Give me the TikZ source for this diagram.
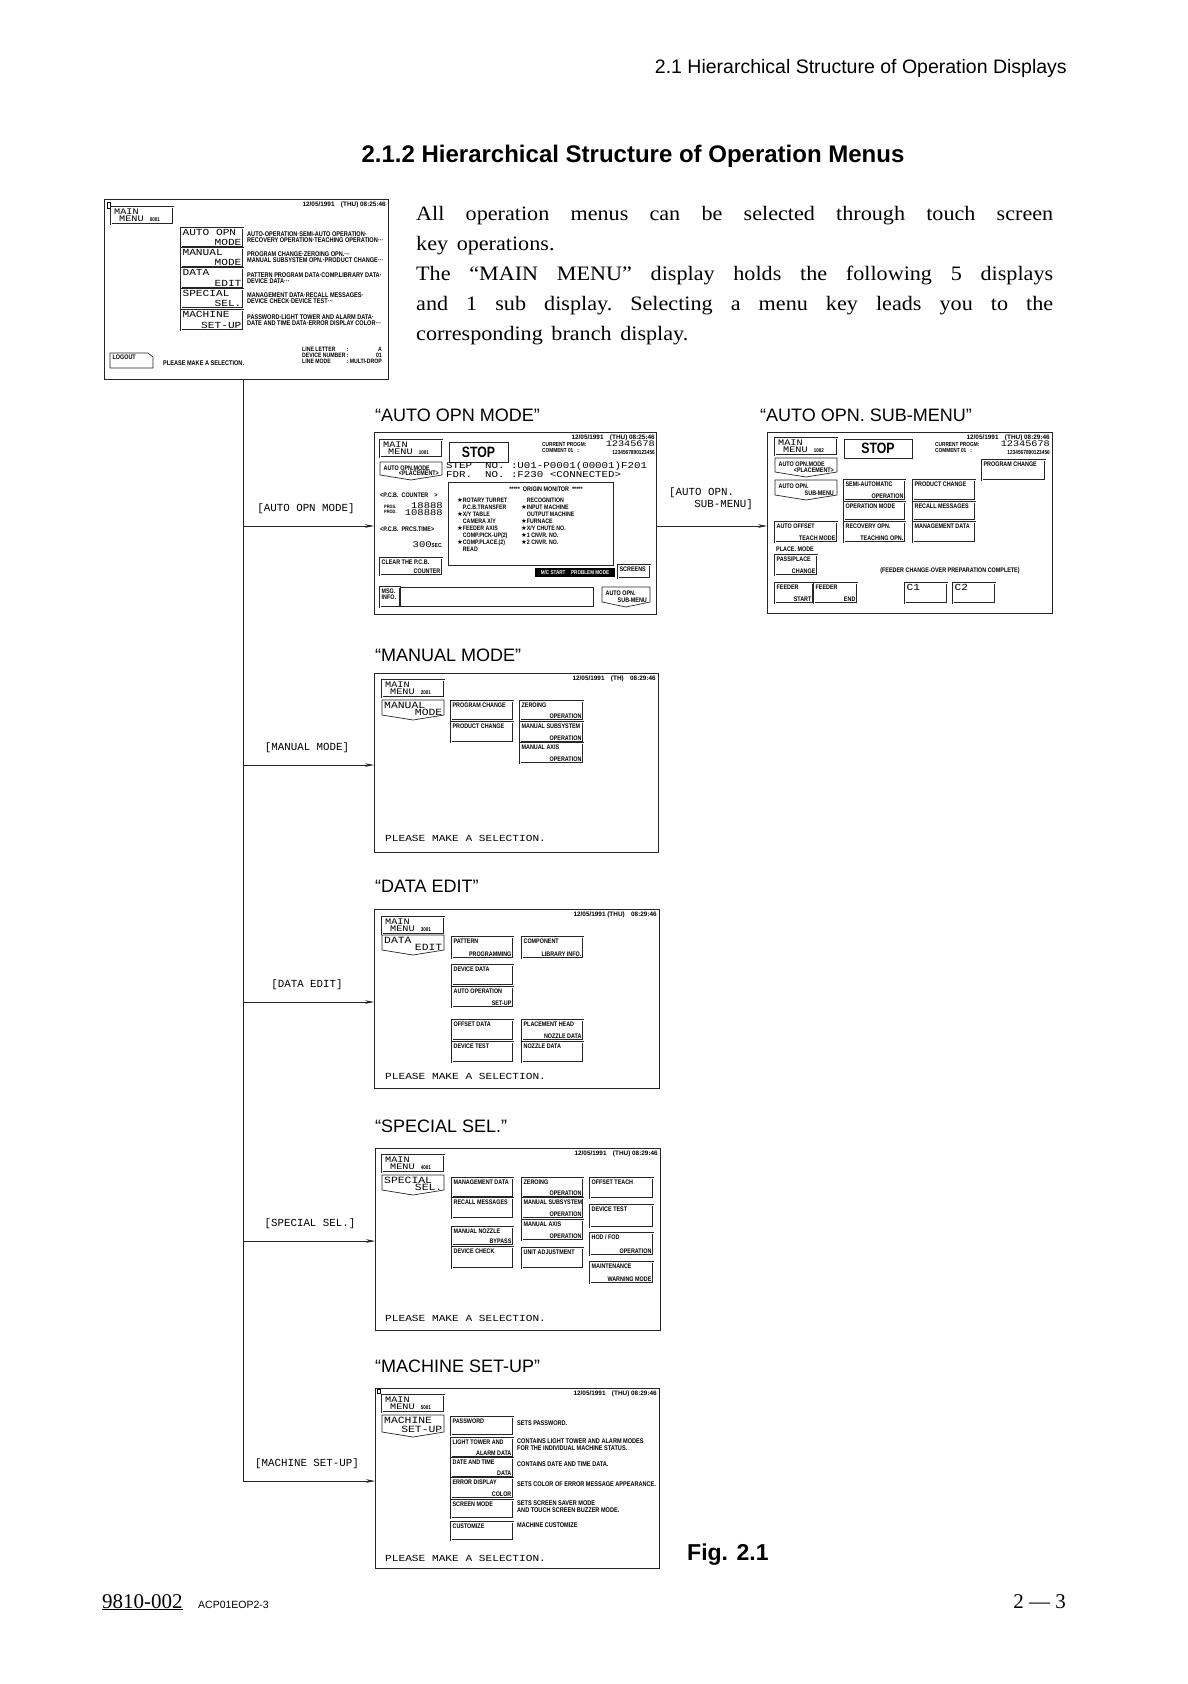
\documentclass[tikz,border=0pt]{standalone}
\usepackage{fontspec}
\setmainfont{Liberation Serif}
\setsansfont{Liberation Sans}
\newfontfamily\parf[FakeStretch=1.08]{Liberation Serif}
\newfontfamily\scrf[FakeStretch=0.82]{Liberation Sans}
\newfontfamily\datef{Liberation Sans}
\newfontfamily\widef[FakeStretch=1.2]{Liberation Mono}
\newfontfamily\monof{Liberation Mono}
\newfontfamily\symf{DejaVu Sans}
\usetikzlibrary{arrows.meta}
\newcommand\setfs[1]{\fontsize{#1}{#1}\selectfont}
\newcommand\stR{{\symf ★}}
\newcommand\nst{\hphantom{\stR}}
\tikzset{
 screen/.style={draw=black!85, line width=0.9pt, inner sep=0pt, outer sep=0pt},
 btnbox/.style={draw=black!85, line width=0.6pt, double=white, double distance=0.9pt, inner sep=0pt, outer sep=0pt},
 plainbox/.style={draw=black!85, line width=0.6pt, inner sep=0pt, outer sep=0pt},
 tx/.style={font=\scrf\bfseries\setfs{6.6}, inner sep=1.4pt, align=left},
 dt/.style={font=\datef\bfseries\setfs{6.4}, inner sep=0pt, anchor=north east},
 desc/.style={font=\scrf\bfseries\fontsize{6.8}{6.1}\selectfont, inner sep=0pt, align=left},
 wd/.style={font=\widef\setfs{9.5}, inner sep=0pt},
 bigt/.style={font=\widef\setfs{9.3}, inner sep=1.4pt},
 pls/.style={font=\widef\setfs{9.3}, inner sep=0pt, anchor=west},
 lbl/.style={font=\monof\setfs{10.8}, inner sep=0pt},
 arr/.style={draw=black!85, line width=0.7pt, -{Stealth[length=9pt,width=3.6pt]}},
 trunk/.style={draw=black!85, line width=0.8pt},
 caption/.style={font=\sffamily\setfs{18}, anchor=base west, inner sep=0pt},
}
% button: [text style]{name}{x1}{y1}{x2}{y2}{top-left text}{bottom-right text}
\newcommand\btn[8][tx]{%
 \node[btnbox, minimum width={(#5-#3)*1pt}, minimum height={(#6-#4)*1pt}] (#2) at ({(#3+#5)/2},{(#4+#6)/2}) {};
 \node[#1, anchor=north west] (#2-t) at (#2.north west) {#7};
 \node[#1, anchor=south east] (#2-b) at (#2.south east) {#8};
}
% chevron key: [text style]{name}{x1}{y1}{x2}{y2}{top}{bottom}
\newcommand\chev[8][wd]{%
 \draw[draw=black!85, line width=0.7pt] (#3,#4) -- (#5,#4) -- ({#5},{#6-5}) -- ({(#3+#5)/2},{#6}) -- ({#3},{#6-5}) -- cycle;
 \node[#1, anchor=base west] (#2-t) at ({#3+2},{#4+8}) {#7};
 \node[#1, anchor=base east] (#2-b) at ({#5-1.5},{#6-5}) {#8};
}
% MAIN MENU key: {name}{x1}{y1}{number}
\newcommand\mmb[4]{%
 \node[btnbox, minimum width=62pt, minimum height=17pt] (#1) at ({#2+31},{#3+8.5}) {};
 \node[font=\widef\setfs{8.5}, inner sep=0pt, anchor=base west] (#1-t) at ({#2+3},{#3+7.5}) {MAIN};
 \node[font=\widef\setfs{8.5}, inner sep=0pt, anchor=base west] (#1-b) at ({#2+8},{#3+14.5}) {MENU\ {\scrf\bfseries\setfs{5.5}#4}};
}
% screen frame: {name}{x1}{y1}{x2}{y2}
\newcommand\scrn[5]{%
 \node[screen, minimum width={(#4-#2)*1pt}, minimum height={(#5-#3)*1pt}] (#1) at ({(#2+#4)/2},{(#3+#5)/2}) {};
}
\begin{document}
\begin{tikzpicture}[x=1pt,y=-1pt]
\fill[white] (0,0) rectangle (1187,1684);
\useasboundingbox (0,0) rectangle (1187,1684);

% ---------- page texts ----------
\node[font=\sffamily\setfs{19.5}, anchor=base east, inner sep=0pt] (hdr) at (1067,73) {2.1 Hierarchical Structure of Operation Displays};
\node[font=\sffamily\bfseries\setfs{24}, anchor=base, inner sep=0pt] (title) at (633,162) {2.1.2 Hierarchical Structure of Operation Menus};
\node[anchor=north west, inner sep=0pt, text width=637pt, align=justify, font=\parf\fontsize{20.5}{30}\selectfont] (para) at (416,206)
 {\parindent=0pt\tolerance=10000\hbadness=10000\frenchspacing\spaceskip=0.42em plus 1em minus 0.1em
 All operation menus can be selected through touch screen\linebreak key operations.\par
 The “MAIN MENU” display holds the following 5 displays\linebreak and 1 sub display. Selecting a menu key leads you to the\linebreak corresponding branch display.};

\node[caption] (cap1) at (375,421) {“AUTO OPN MODE”};
\node[caption] (cap2) at (760,421) {“AUTO OPN. SUB-MENU”};
\node[caption] (cap3) at (375,661) {“MANUAL MODE”};
\node[caption] (cap4) at (375,892) {“DATA EDIT”};
\node[caption] (cap5) at (375,1132) {“SPECIAL SEL.”};
\node[caption] (cap6) at (375,1372) {“MACHINE SET-UP”};
\node[font=\sffamily\bfseries\setfs{23}, anchor=base west, inner sep=0pt] (fig) at (687,1560) {Fig. 2.1};

\node[font=\rmfamily\setfs{21}, anchor=base west, inner sep=0pt] (ft1) at (102,1608) {\underline{9810-002}};
\node[font=\sffamily\setfs{10.5}, anchor=base west, inner sep=0pt] (ft2) at (198,1608) {ACP01EOP2-3};
\node[font=\rmfamily\setfs{21}, anchor=base east, inner sep=0pt] (ft3) at (1066,1608) {2 — 3};

% ---------- MAIN MENU screen ----------
\scrn{s0}{104}{199}{388}{379}
\draw[line width=0.4pt] (107,202) rectangle (110,208);
\mmb{m0}{111}{207}{0001}
\node[dt] (d0) at (386,202) {12/05/1991\quad(THU)\ 08:25:46};
\btn[bigt]{b01}{181}{228}{243}{247}{AUTO\ OPN}{MODE}
\btn[bigt]{b02}{181}{248}{243}{267}{MANUAL}{MODE}
\btn[bigt]{b03}{181}{268}{243}{288}{DATA}{EDIT}
\btn[bigt]{b04}{181}{289}{243}{308}{SPECIAL}{SEL.}
\btn[bigt]{b05}{181}{310}{243}{330}{MACHINE}{SET-UP}
\node[desc, anchor=west] (e01) at (247,237.5) {AUTO-OPERATION·SEMI-AUTO OPERATION·\\RECOVERY OPERATION·TEACHING OPERATION···};
\node[desc, anchor=west] (e02) at (247,257.5) {PROGRAM CHANGE·ZEROING OPN.···\\MANUAL SUBSYSTEM OPN.·PRODUCT CHANGE···};
\node[desc, anchor=west] (e03) at (247,278) {PATTERN PROGRAM DATA·COMP.LIBRARY DATA·\\DEVICE DATA···};
\node[desc, anchor=west] (e04) at (247,298.5) {MANAGEMENT DATA·RECALL MESSAGES·\\DEVICE CHECK·DEVICE TEST···};
\node[desc, anchor=west] (e05) at (247,320) {PASSWORD·LIGHT TOWER AND ALARM DATA·\\DATE AND TIME DATA·ERROR DISPLAY COLOR···};
\draw[draw=black!85, line width=0.6pt] (110,353) -- (148,353) -- (153,357) -- (153,368) -- (110,368) -- cycle;
\node[tx, anchor=north west] (lo) at (111,353.5) {LOGOUT};
\node[desc, anchor=west] (pm0) at (163,363) {PLEASE MAKE A SELECTION.};
\node[anchor=east, inner sep=0pt, font=\scrf\bfseries\fontsize{6.3}{5.4}\selectfont] (li0) at (382,356)
 {\begin{tabular}{@{}l@{\,}c@{\ }r@{}}LINE LETTER&:&A\\DEVICE NUMBER&:&01\\LINE MODE&:&MULTI-DROP\end{tabular}};

% ---------- AUTO OPN MODE screen ----------
\scrn{s1}{374}{432}{656}{614}
\mmb{m1}{380}{440}{1001}
\node[plainbox, minimum width=59pt, minimum height=20pt, font=\scrf\bfseries\setfs{15}] (stop1) at (478.5,452) {STOP};
\node[dt] (d1) at (655,434.5) {12/05/1991\quad(THU) 08:25:46};
\node[anchor=north west, inner sep=0pt, align=left, font=\scrf\bfseries\fontsize{5.8}{5.8}\selectfont] (cp1) at (542,442) {CURRENT PROGM:\\COMMENT 01\ \ \ :};
\node[anchor=north east, inner sep=0pt, font=\widef\setfs{8.5}] (pg1) at (655,441) {12345678};
\node[dt, font=\scrf\bfseries\setfs{5.8}] (cm1) at (655,450.5) {1234567890123456};
\chev[tx]{c1}{380}{462}{442}{480}{AUTO OPN.MODE}{<PLACEMENT>}
\node[anchor=west, inner sep=0pt, font=\widef\setfs{9}] (stp1) at (446,466.5) {STEP\ \ NO.\ :U01-P0001(00001)F201};
\node[anchor=west, inner sep=0pt, font=\widef\setfs{9}] (fdr1) at (446,474.5) {FDR.\ \ NO.\ :F230\ <CONNECTED>};
\node[plainbox, minimum width=165pt, minimum height=83pt] (mon1) at (530.5,523.5) {};
\node[tx, inner sep=0pt] (mt1) at (546,489) {*****\ \ ORIGIN MONITOR\ \ *****};
\node[anchor=north west, inner sep=0pt, align=left, font=\scrf\bfseries\fontsize{6.4}{7}\selectfont] (ml1) at (457,497.5)
 {\stR ROTARY TURRET\\\nst P.C.B.TRANSFER\\\stR X/Y TABLE\\\nst CAMERA X/Y\\\stR FEEDER AXIS\\\nst COMP.PICK-UP(2)\\\stR COMP.PLACE.(2)\\\nst READ};
\node[anchor=north west, inner sep=0pt, align=left, font=\scrf\bfseries\fontsize{6.4}{7}\selectfont] (mr1) at (521,497.5)
 {\nst RECOGNITION\\\stR INPUT MACHINE\\\nst OUTPUT MACHINE\\\stR FURNACE\\\stR X/Y CHUTE NO.\\\stR 1 CNVR. NO.\\\stR 2 CNVR. NO.};
\node[tx, anchor=west, inner sep=0pt] (pc1) at (380,495) {<P.C.B.\ \ COUNTER\ \ \ \ >};
\node[anchor=west, inner sep=0pt, align=left, font=\scrf\bfseries\fontsize{4.8}{5}\selectfont] (pr1) at (384,509) {PRGS.\\PROD.};
\node[anchor=east, inner sep=0pt, align=right, font=\widef\fontsize{8.8}{7}\selectfont] (cnt1) at (443,509) {18888\\108888};
\node[tx, anchor=west, inner sep=0pt] (pt1) at (380,529) {<P.C.B.\ \ PRCS.TIME>};
\node[anchor=east, inner sep=0pt] (sec1) at (443,545) {{\widef\setfs{8.8}300}{\scrf\bfseries\setfs{5.8}SEC.}};
\btn{cl1}{380}{558}{442}{575}{CLEAR THE P.C.B.}{COUNTER}
\node[fill=black, text=white, inner sep=0pt, minimum width=80pt, minimum height=9pt, font=\scrf\bfseries\setfs{5.6}] (mc1) at (575,572.5) {M/C START\quad PROBLEM MODE};
\btn{sc1}{618}{565}{650}{578}{SCREENS}{}
\btn{mi1}{380}{587}{400}{607}{MSG.\\INFO.}{}
\node[plainbox, minimum width=193pt, minimum height=19pt] (msg1) at (496.5,597) {};
\chev[tx]{as1}{602}{587}{650}{607}{AUTO OPN.}{SUB-MENU}

% ---------- AUTO OPN. SUB-MENU screen ----------
\scrn{s2}{767}{432}{1052}{613}
\mmb{m2}{775}{438}{1002}
\node[plainbox, minimum width=68pt, minimum height=19pt, font=\scrf\bfseries\setfs{15}] (stop2) at (878,448.5) {STOP};
\node[dt] (d2) at (1050,434.5) {12/05/1991\quad(THU) 08:29:46};
\node[anchor=north west, inner sep=0pt, align=left, font=\scrf\bfseries\fontsize{5.8}{5.8}\selectfont] (cp2) at (935,442) {CURRENT PROGM:\\COMMENT 01\ \ \ :};
\node[anchor=north east, inner sep=0pt, font=\widef\setfs{8.5}] (pg2) at (1050,441) {12345678};
\node[dt, font=\scrf\bfseries\setfs{5.8}] (cm2) at (1050,450.5) {1234567890123456};
\chev[tx]{c2}{775}{458}{837}{477}{AUTO OPN.MODE}{<PLACEMENT>}
\chev[tx]{c2b}{775}{480}{837}{500}{AUTO OPN.}{SUB-MENU}
\btn{pg2b}{982}{460}{1045}{480}{PROGRAM CHANGE}{}
\btn{sa2}{844}{480}{905}{500}{SEMI-AUTOMATIC}{OPERATION}
\btn{pc2}{913}{480}{975}{500}{PRODUCT CHANGE}{}
\btn{om2}{844}{502}{905}{520}{OPERATION MODE}{}
\btn{rm2}{913}{502}{975}{520}{RECALL MESSAGES}{}
\btn{ao2}{775}{522}{837}{542}{AUTO OFFSET}{TEACH MODE}
\btn{ro2}{844}{522}{905}{542}{RECOVERY OPN.}{TEACHING OPN.}
\btn{md2}{913}{522}{975}{542}{MANAGEMENT DATA}{}
\node[tx, anchor=west, inner sep=0pt] (plm2) at (776,549) {PLACE. MODE};
\btn{pp2}{775}{555}{817}{575}{PASS/PLACE}{CHANGE}
\node[tx, inner sep=0pt] (fc2) at (950,571) {(FEEDER CHANGE-OVER PREPARATION COMPLETE)};
\btn{fs2}{775}{583}{813}{603}{FEEDER}{START}
\btn{fe2}{814}{583}{857}{603}{FEEDER}{END}
\btn[bigt]{c12}{905}{583}{947}{603}{C1}{}
\btn[bigt]{c22}{953}{583}{995}{603}{C2}{}

% ---------- MANUAL MODE screen ----------
\scrn{s3}{374}{673}{658}{852}
\mmb{m3}{382}{680}{2001}
\chev{k3}{382}{700}{444}{720}{MANUAL}{MODE}
\node[dt] (d3) at (656,676) {12/05/1991\quad(TH)\quad08:29:46};
\btn{b31}{451}{701}{513}{720}{PROGRAM CHANGE}{}
\btn{b32}{451}{722}{513}{742}{PRODUCT CHANGE}{}
\btn{b33}{520}{701}{583}{720}{ZEROING}{OPERATION}
\btn{b34}{520}{722}{583}{742}{MANUAL SUBSYSTEM}{OPERATION}
\btn{b35}{520}{743}{583}{763}{MANUAL AXIS}{OPERATION}
\node[pls] (p3) at (385,838) {PLEASE MAKE A SELECTION.};

% ---------- DATA EDIT screen ----------
\scrn{s4}{374}{909}{659}{1088}
\mmb{m4}{382}{917}{3001}
\chev{k4}{382}{935}{444}{955}{DATA}{EDIT}
\node[dt] (d4) at (657,912) {12/05/1991 (THU)\quad08:29:46};
\btn{b41}{452}{937}{513}{958}{PATTERN}{PROGRAMMING}
\btn{b42}{522}{937}{583}{958}{COMPONENT}{LIBRARY INFO.}
\btn{b43}{452}{965}{513}{985}{DEVICE DATA}{}
\btn{b44}{452}{987}{513}{1007}{AUTO OPERATION}{SET-UP}
\btn{b45}{452}{1020}{513}{1040}{OFFSET DATA}{}
\btn{b46}{452}{1042}{513}{1062}{DEVICE TEST}{}
\btn{b47}{522}{1020}{583}{1040}{PLACEMENT HEAD}{NOZZLE DATA}
\btn{b48}{522}{1042}{583}{1062}{NOZZLE DATA}{}
\node[pls] (p4) at (385,1076) {PLEASE MAKE A SELECTION.};

% ---------- SPECIAL SEL. screen ----------
\scrn{s5}{375}{1148}{660}{1330}
\mmb{m5}{382}{1155}{4001}
\chev{k5}{382}{1175}{444}{1195}{SPECIAL}{SEL.}
\node[dt] (d5) at (658,1151) {12/05/1991\quad(THU) 08:29:46};
\btn{b51}{452}{1178}{513}{1197}{MANAGEMENT DATA}{}
\btn{b52}{452}{1198}{513}{1218}{RECALL MESSAGES}{}
\btn{b53}{452}{1227}{513}{1245}{MANUAL NOZZLE}{BYPASS}
\btn{b54}{452}{1247}{513}{1268}{DEVICE CHECK}{}
\btn{b55}{522}{1178}{583}{1197}{ZEROING}{OPERATION}
\btn{b56}{522}{1198}{583}{1218}{MANUAL SUBSYSTEM}{OPERATION}
\btn{b57}{522}{1220}{583}{1240}{MANUAL AXIS}{OPERATION}
\btn{b58}{522}{1248}{583}{1268}{UNIT ADJUSTMENT}{}
\btn{b59}{590}{1178}{653}{1198}{OFFSET TEACH}{}
\btn{b5a}{590}{1205}{653}{1227}{DEVICE TEST}{}
\btn{b5b}{590}{1233}{653}{1255}{HOD / FOD}{OPERATION}
\btn{b5c}{590}{1262}{653}{1283}{MAINTENANCE}{WARNING MODE}
\node[pls] (p5) at (385,1318) {PLEASE MAKE A SELECTION.};

% ---------- MACHINE SET-UP screen ----------
\scrn{s6}{375}{1388}{659}{1568}
\draw[line width=0.4pt] (377,1389) rectangle (380,1393);
\mmb{m6}{382}{1395}{5001}
\chev{k6}{382}{1415}{444}{1437}{MACHINE}{SET-UP}
\node[dt] (d6) at (657,1391) {12/05/1991\quad(THU) 08:29:46};
\btn{b61}{451}{1417}{513}{1435}{PASSWORD}{}
\btn{b62}{451}{1438}{513}{1457}{LIGHT TOWER AND}{ALARM DATA}
\btn{b63}{451}{1458}{513}{1477}{DATE AND TIME}{DATA}
\btn{b64}{451}{1478}{513}{1498}{ERROR DISPLAY}{COLOR}
\btn{b65}{451}{1500}{513}{1518}{SCREEN MODE}{}
\btn{b66}{451}{1522}{513}{1540}{CUSTOMIZE}{}
\node[desc, anchor=north west] (t61) at (517,1421) {SETS PASSWORD.};
\node[desc, anchor=north west] (t62) at (517,1439) {CONTAINS LIGHT TOWER AND ALARM MODES\\FOR THE INDIVIDUAL MACHINE STATUS.};
\node[desc, anchor=north west] (t63) at (517,1462) {CONTAINS DATE AND TIME DATA.};
\node[desc, anchor=north west] (t64) at (517,1482) {SETS COLOR OF ERROR MESSAGE APPEARANCE.};
\node[desc, anchor=north west] (t65) at (517,1501) {SETS SCREEN SAVER MODE\\AND TOUCH SCREEN BUZZER MODE.};
\node[desc, anchor=north west] (t66) at (517,1523) {MACHINE CUSTOMIZE};
\node[pls] (p6) at (385,1558) {PLEASE MAKE A SELECTION.};

% ---------- connectors ----------
\coordinate (j1) at (243,526);
\coordinate (j2) at (243,765);
\coordinate (j3) at (243,1002);
\coordinate (j4) at (243,1241);
\coordinate (j5) at (243,1481);
\draw[trunk] (s0.south -| j1) -- (j5);
\draw[arr] (j1) -- (j1 -| s1.west);
\draw[arr] (j2) -- (j2 -| s3.west);
\draw[arr] (j3) -- (j3 -| s4.west);
\draw[arr] (j4) -- (j4 -| s5.west);
\draw[arr] (j5) -- (j5 -| s6.west);
\draw[arr] (j1 -| s1.east) -- (j1 -| s2.west);
\node[lbl] (l1) at (306,509) {[AUTO OPN MODE]};
\node[lbl] (l3) at (307,748) {[MANUAL MODE]};
\node[lbl] (l4) at (307,985) {[DATA EDIT]};
\node[lbl] (l5) at (310,1224) {[SPECIAL SEL.]};
\node[lbl] (l6) at (307,1464) {[MACHINE SET-UP]};
\node[lbl, anchor=west] (l2a) at (669,493) {[AUTO OPN.};
\node[lbl, anchor=east] (l2b) at (753,505) {SUB-MENU]};
\end{tikzpicture}
\end{document}
